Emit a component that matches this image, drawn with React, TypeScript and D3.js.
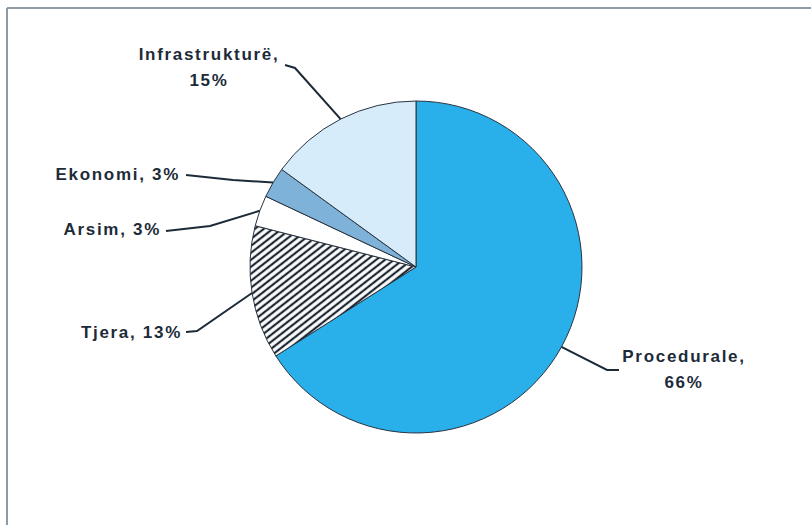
import React from "react";
import * as d3 from "d3";

const categories = ["Procedurale", "Tjera", "Arsim", "Ekonomi", "Infrastrukturë"];
const values = [66, 13, 3, 3, 15];
const labelLines = [
  ["Procedurale,", "66%"],
  ["Tjera, 13%"],
  ["Arsim, 3%"],
  ["Ekonomi, 3%"],
  ["Infrastrukturë,", "15%"],
];

const fills = ["#29b0ea", "url(#hatch)", "#ffffff", "#7fb2d8", "#d7ecfa"];

// label layout: text anchor point, elbow point, line end near text
const layout = [
  { tx: 684, ty: 362, anchor: "middle", elbow: [607, 370], end: [619, 370] },
  { tx: 182, ty: 338, anchor: "end", elbow: [197, 331], end: [186, 332] },
  { tx: 161, ty: 235, anchor: "end", elbow: [210, 226], end: [166, 231] },
  { tx: 180, ty: 180, anchor: "end", elbow: [233, 180], end: [186, 175] },
  { tx: 209, ty: 60, anchor: "middle", elbow: [295, 68], end: [285, 65] },
];

const W = 811;
const H = 525;
const cx = 416;
const cy = 267;
const R = 166;

export default function App() {
  const pie = d3
    .pie<number>()
    .sort(null)
    .startAngle(0)
    .endAngle(2 * Math.PI)(values);
  const arc = d3.arc<d3.PieArcDatum<number>>().innerRadius(0).outerRadius(R);
  const textColor = "#1d2b39";

  return (
    <svg
      width={W}
      height={H}
      style={{ position: "absolute", left: 0, top: 0, background: "#fff" }}
      fontFamily="'Liberation Sans', Arial, sans-serif"
    >
      <defs>
        <pattern
          id="hatch"
          width={5.5}
          height={5.5}
          patternUnits="userSpaceOnUse"
          patternTransform="rotate(-38)"
        >
          <rect width={5.5} height={5.5} fill="#fff" />
          <line x1={0} y1={2.75} x2={5.5} y2={2.75} stroke="#1b2633" strokeWidth={2.2} />
        </pattern>
      </defs>
      <rect x={0} y={0} width={W} height={H} fill="#fff" />
      <line x1={7} y1={8} x2={W} y2={8} stroke="#8d9ba6" strokeWidth={2} />
      <line x1={7} y1={8} x2={7} y2={H} stroke="#8d9ba6" strokeWidth={2} />
      <g transform={`translate(${cx},${cy})`}>
        {pie.map((d, i) => (
          <path key={categories[i]} d={arc(d) || ""} fill={fills[i]} stroke="#2a3440" strokeWidth={1} />
        ))}
      </g>
      {pie.map((d, i) => {
        const mid = (d.startAngle + d.endAngle) / 2;
        const px = cx + R * Math.sin(mid);
        const py = cy - R * Math.cos(mid);
        const L = layout[i];
        const pts = [[px, py], L.elbow, L.end] as [number, number][];
        return (
          <path
            key={"l" + i}
            d={d3.line()(pts) || ""}
            fill="none"
            stroke="#1d2b39"
            strokeWidth={2}
          />
        );
      })}
      {labelLines.map((lines, i) => {
        const L = layout[i];
        return (
          <text
            key={"t" + i}
            x={L.tx}
            y={L.ty}
            textAnchor={L.anchor as any}
            fontSize={17}
            fontWeight="bold"
            letterSpacing={1.7}
            fill={textColor}
          >
            {lines.map((s, j) => (
              <tspan key={j} x={L.tx} dy={j === 0 ? 0 : 26}>
                {s}
              </tspan>
            ))}
          </text>
        );
      })}
    </svg>
  );
}
